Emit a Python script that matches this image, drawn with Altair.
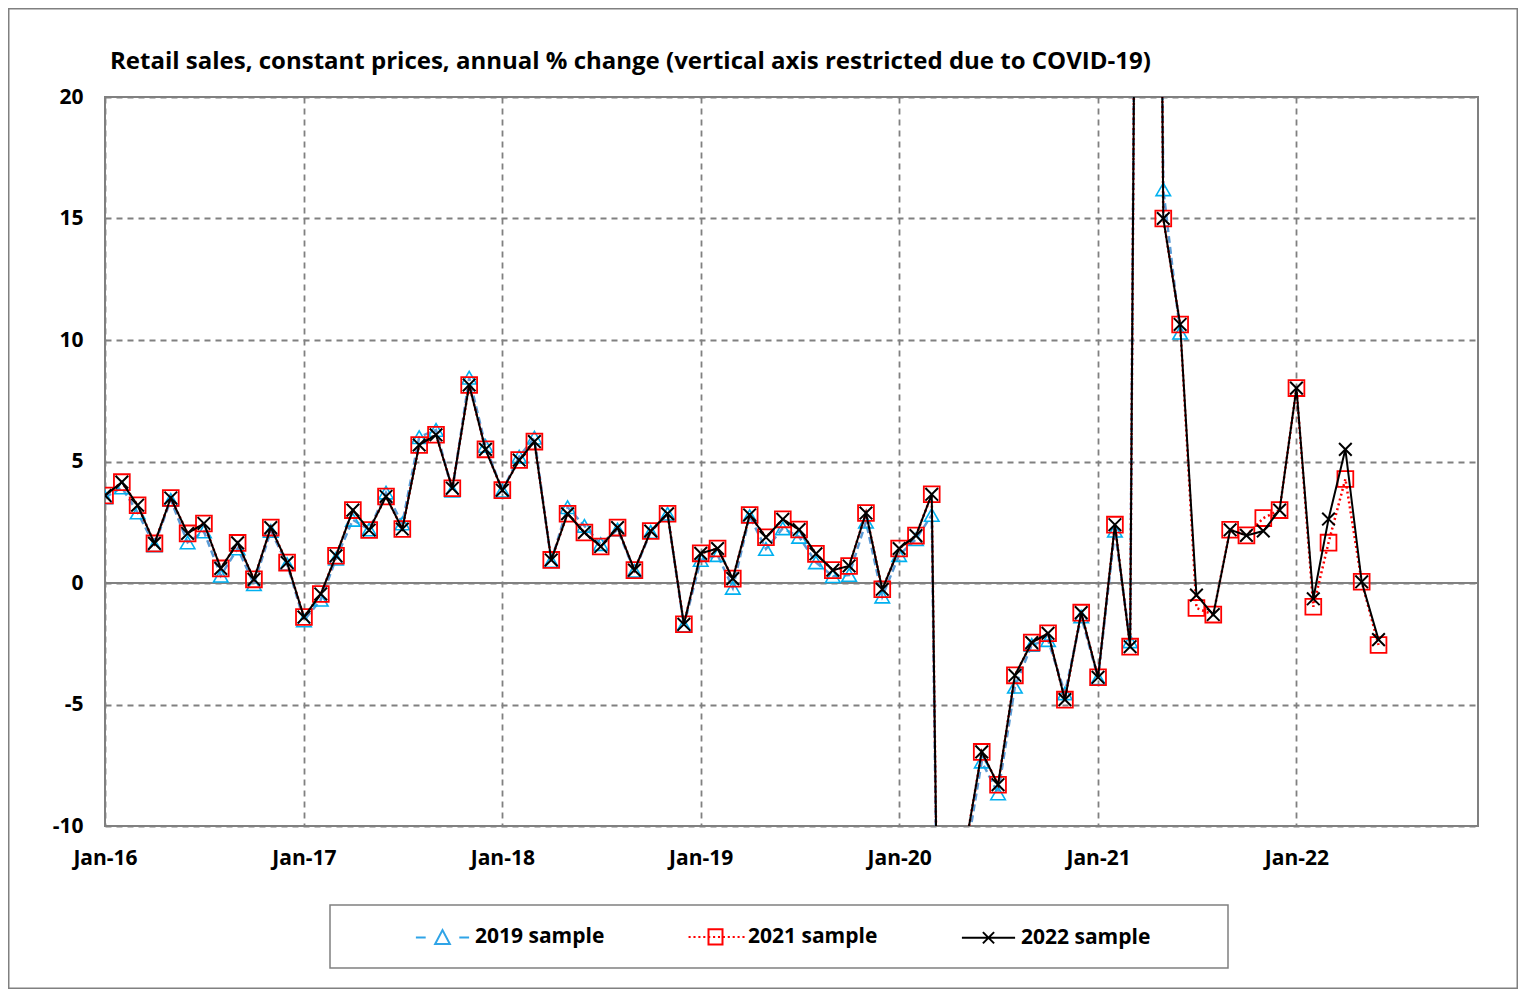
import altair as alt
import pandas as pd

# ---------------- data ----------------
months = [f"{y}-{m:02d}-01" for y in range(2016, 2023) for m in range(1, 13)][:78]

sample_2022 = [
    3.60, 4.15, 3.20, 1.63, 3.50, 2.04, 2.45, 0.60, 1.65, 0.15, 2.28, 0.84,
    -1.40, -0.45, 1.12, 3.00, 2.18, 3.56, 2.22, 5.68, 6.10, 3.90, 8.15, 5.50,
    3.82, 5.06, 5.82, 0.95, 2.85, 2.08, 1.50, 2.28, 0.53, 2.14, 2.85, -1.70,
    1.22, 1.42, 0.18, 2.80, 1.88, 2.62, 2.20, 1.20, 0.53, 0.70, 2.88, -0.26,
    1.42, 1.95, 3.65, -50.0, -11.0, -6.95, -8.30, -3.80, -2.45, -2.07, -4.80, -1.22,
    -3.88, 2.40, -2.62, 100.0, 15.00, 10.64, -0.50, -1.30, 2.19, 1.96, 2.14, 3.00,
    8.02, -0.65, 2.63, 5.50, 0.05, -2.33,
]

sample_2021 = [
    3.60, 4.15, 3.20, 1.63, 3.50, 2.04, 2.45, 0.60, 1.65, 0.15, 2.28, 0.84,
    -1.40, -0.45, 1.12, 3.00, 2.18, 3.56, 2.22, 5.68, 6.10, 3.90, 8.15, 5.50,
    3.82, 5.06, 5.82, 0.95, 2.85, 2.08, 1.50, 2.28, 0.53, 2.14, 2.85, -1.70,
    1.22, 1.42, 0.18, 2.80, 1.88, 2.62, 2.20, 1.20, 0.53, 0.70, 2.88, -0.26,
    1.42, 1.95, 3.65, -50.0, -11.0, -6.95, -8.30, -3.80, -2.45, -2.07, -4.80, -1.22,
    -3.88, 2.40, -2.62, 100.0, 15.00, 10.64, -1.03, -1.30, 2.19, 1.96, 2.67, 3.00,
    8.02, -0.98, 1.66, 4.28, 0.05, -2.55,
]

sample_2019 = [
    3.52, 3.93, 2.90, 1.55, 3.42, 1.67, 2.12, 0.30, 1.42, -0.05, 2.14, 0.78,
    -1.54, -0.69, 1.00, 2.60, 2.20, 3.72, 2.45, 6.00, 6.30, 3.80, 8.45, 5.64,
    3.80, 5.20, 5.98, 0.90, 3.12, 2.35, 1.60, 2.20, 0.50, 2.10, 2.85, -1.75,
    0.95, 1.15, -0.20, 2.75, 1.40, 2.25, 1.90, 0.85, 0.28, 0.33, 2.52, -0.56,
    1.15, 1.80, 2.80, -50.5, -11.5, -7.35, -8.66, -4.27, -2.55, -2.35, -4.54, -1.38,
    -3.92, 2.15, -2.40, 101.0, 16.20, 10.30,
]

series_names = ["2019 sample", "2021 sample", "2022 sample"]
series_values = [sample_2019, sample_2021, sample_2022]

tick_years = list(range(2016, 2023))
y_ticks = [-10, -5, 0, 5, 10, 15, 20]
title_text = "Retail sales, constant prices, annual % change (vertical axis restricted due to COVID-19)"

frames = [pd.DataFrame({"date": months[:len(v)], "value": v, "series": n})
          for n, v in zip(series_names, series_values)]
long_df = pd.concat(frames, ignore_index=True)

# ---------------- styles ----------------
FONT = "Open Sans"
GRAY = "#808080"
line_colors = ["#5B9BD5", "#FF0000", "#000000"]
marker_colors = ["#00B0F0", "#FF0000", "#000000"]
legend_colors = ["#2FA4E7", "#FF0000", "#000000"]

X_PATH = "M-1,-1L1,1M-1,1L1,-1"


def dots(a, b, step=0.7, ln=0.3):
    out = []
    p = a
    while p < b:
        out.append(f"M{p:.2f},0H{p + ln:.2f}")
        p += step
    return "".join(out)


legend_paths = [
    "M-3.8,0H-2.4M2.4,0H3.8M-1.05,0.95L0,-1.05L1.05,0.95Z",
    dots(-3.85, 3.9) + "M-1,-1.1H1V1.1H-1Z",
    "M-3.8,0H3.8M-0.8,-0.8L0.8,0.8M-0.8,0.8L0.8,-0.8",
]

x_enc = alt.X(
    "date:T",
    title=None,
    scale=alt.Scale(type="utc", domain=[alt.DateTime(year=2016, month=1, date=1, utc=True),
                                        alt.DateTime(year=2022, month=12, date=1, utc=True)]),
    axis=alt.Axis(values=[alt.DateTime(year=y, month=1, date=1, utc=True) for y in tick_years],
                  format="%b-%y", labelPadding=21, labelFlush=False, labelOverlap=False),
)
y_enc = alt.Y(
    "value:Q",
    title=None,
    scale=alt.Scale(domain=[-10, 20], nice=False, zero=False),
    axis=alt.Axis(values=y_ticks, labelPadding=22, labelFlush=False, labelOverlap=False,
                  labelExpr="'' + datum.value"),
)

layers = []

zero_df = pd.DataFrame({"z": [0]})
layers.append(alt.Chart(zero_df).mark_rule(color=GRAY, strokeWidth=2).encode(
    y=alt.Y("z:Q", scale=alt.Scale(domain=[-10, 20], nice=False))))

line_styles = [
    dict(strokeDash=[7, 4], strokeWidth=2.5),
    dict(strokeDash=[2, 3], strokeWidth=2.5),
    dict(strokeWidth=2),
]
point_styles = [
    dict(shape="triangle-up", size=210, strokeWidth=1.6),
    dict(shape="square", size=250, strokeWidth=1.8),
    dict(shape=X_PATH, size=160, strokeWidth=2),
]

for i, df in enumerate(frames):
    layers.append(
        alt.Chart(df).mark_line(color=line_colors[i], clip=True, **line_styles[i]).encode(x=x_enc, y=y_enc)
    )
    layers.append(
        alt.Chart(df).mark_point(color=marker_colors[i], filled=False, clip=True, opacity=1,
                                 **point_styles[i]).encode(x=x_enc, y=y_enc)
    )

legend_layer = alt.Chart(long_df).mark_point(filled=False, opacity=0, size=196, strokeWidth=2).encode(
    x=x_enc,
    y=y_enc,
    color=alt.Color("series:N", title=None,
                    scale=alt.Scale(domain=series_names, range=legend_colors),
                    legend=alt.Legend(orient="none", legendX=327, legendY=829, direction="horizontal",
                                      columns=3, gridAlign="all", columnPadding=79,
                                      symbolSize=196, symbolStrokeWidth=2, symbolOpacity=1,
                                      symbolOffset=0, labelOffset=22, padding=0,
                                      labelFont=FONT, labelFontSize=21, labelFontWeight="bold",
                                      labelColor="black", labelLimit=400)),
    shape=alt.Shape("series:N", title=None,
                    scale=alt.Scale(domain=series_names, range=legend_paths)),
)
layers.append(legend_layer)

# chart title, placed above the plot area
title_df = pd.DataFrame({"t": [title_text]})
layers.append(alt.Chart(title_df).mark_text(
    align="left", baseline="alphabetic", font=FONT, fontSize=24, fontWeight="bold",
    color="black", clip=False).encode(text="t:N", x=alt.value(5), y=alt.value(-28)))

box_df = pd.DataFrame({"k": [0]})
# legend frame
layers.append(alt.Chart(box_df).mark_rect(fillOpacity=0, stroke=GRAY, strokeWidth=1.5, clip=False).encode(
    x=alt.value(330 - 105), x2=alt.value(1228 - 105), y=alt.value(905 - 97), y2=alt.value(968 - 97)))
# outer frame
layers.append(alt.Chart(box_df).mark_rect(fillOpacity=0, stroke=GRAY, strokeWidth=1.5, clip=False).encode(
    x=alt.value(-96.25), x2=alt.value(1412.25), y=alt.value(-88.25), y2=alt.value(891.25)))

chart = alt.layer(*layers).properties(
    width=1373,
    height=729,
    padding={"left": 97, "top": 89, "right": 40, "bottom": 163},
    autosize=alt.AutoSizeParams(type="none"),
    background="white",
).configure_view(
    stroke=GRAY, strokeWidth=2
).configure_axis(
    labelFont=FONT, labelFontSize=21, labelFontWeight="bold", labelColor="black",
    grid=True, gridColor=GRAY, gridDash=[6, 5], gridWidth=1.8,
    domain=False, ticks=False, tickSize=0,
)

chart.save("out.html", embed_options={"renderer": "svg", "actions": False})
